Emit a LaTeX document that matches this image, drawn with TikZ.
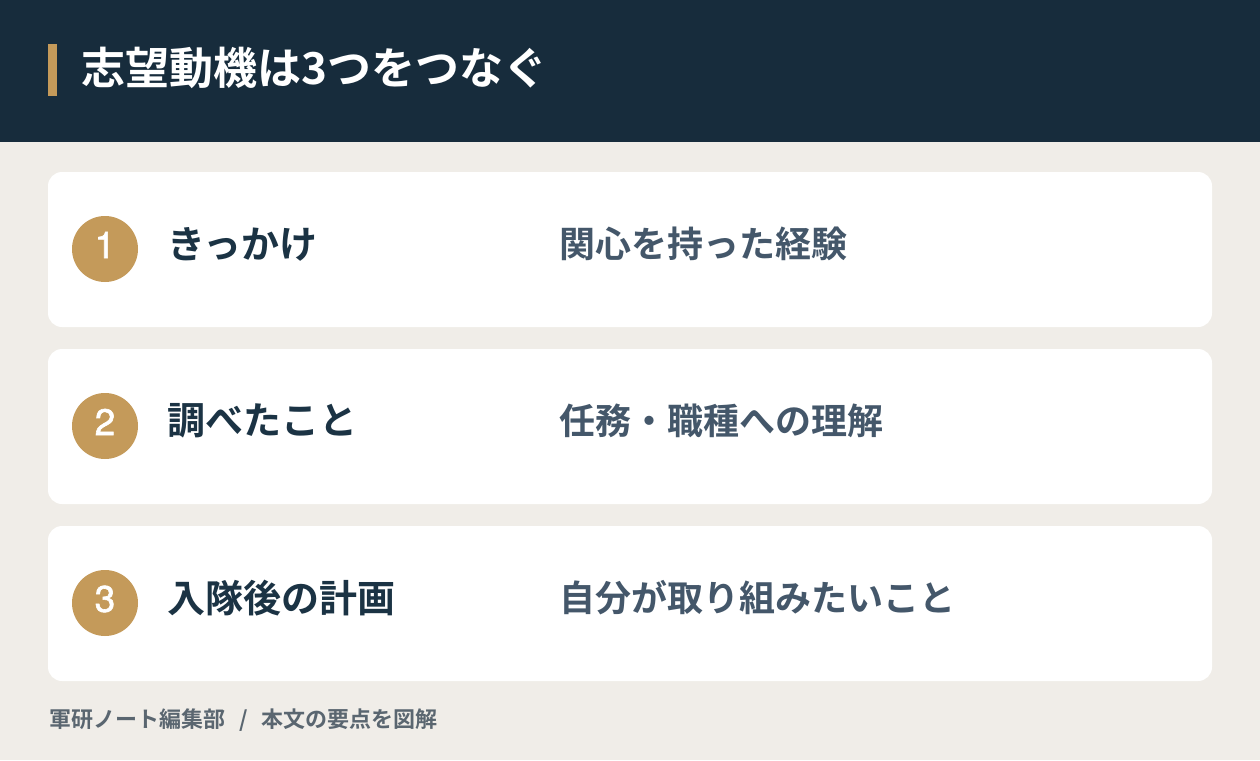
\documentclass[tikz,border=0pt]{standalone}
\usepackage{fontspec}
\setmainfont{Noto Sans CJK JP}
\newfontfamily\jpbold{Noto Sans CJK JP Bold}
\newfontfamily\numfont{TeX Gyre Heros}[FakeBold=1.6]
\definecolor{navy}{HTML}{172C3C}
\definecolor{gold}{HTML}{C49A5A}
\definecolor{paper}{HTML}{F0EDE8}
\definecolor{labelc}{HTML}{1B3344}
\definecolor{descc}{HTML}{44576A}
\definecolor{footc}{HTML}{5A6670}
\tikzset{card/.style={fill=white,rounded corners=14pt},
  numdot/.style={circle,fill=gold,minimum size=66pt,inner sep=0},
  numtext/.style={text=white,inner sep=0,font=\numfont\fontsize{37}{37}\selectfont},
  itemlabel/.style={anchor=west,text=labelc,font=\jpbold\fontsize{38}{38}\selectfont,inner sep=0},
  itemdesc/.style={anchor=west,text=descc,font=\jpbold\fontsize{36}{36}\selectfont,inner sep=0}}

\begin{document}
\begin{tikzpicture}[x=1pt,y=-1pt]
 \useasboundingbox (0,0) rectangle (1260,760);
 \fill[paper] (0,0) rectangle (1260,760);
 \fill[navy] (0,0) rectangle (1260,142);
 \fill[gold] (48,44) rectangle (57,96);
 \node[anchor=west,text=white,inner sep=0,font=\jpbold\fontsize{44}{44}\selectfont] (title) at (81,68) {志望動機は3つをつなぐ};
 \foreach \i/\y/\lab/\desc in {1/172/きっかけ/関心を持った経験,
     2/349/調べたこと/任務・職種への理解,
     3/526/入隊後の計画/自分が取り組みたいこと}{
     \fill[card] (48,\y) rectangle (1212,\y+155);
     \node[numdot] (n\i) at (105,\y+77) {};
     \node[numtext] (t\i) at ([yshift=4pt]n\i.center) {\i};
     \node[itemlabel] (l\i) at (167,\y+72) {\lab};
     \node[itemdesc] (d\i) at (559,\y+72) {\desc};
 }
 \node[anchor=west,text=footc,inner sep=0,font=\jpbold\fontsize{22}{22}\selectfont] (foot) at (49,720) {軍研ノート編集部\hspace{14pt}/\hspace{14pt}本文の要点を図解};
\end{tikzpicture}
\end{document}
